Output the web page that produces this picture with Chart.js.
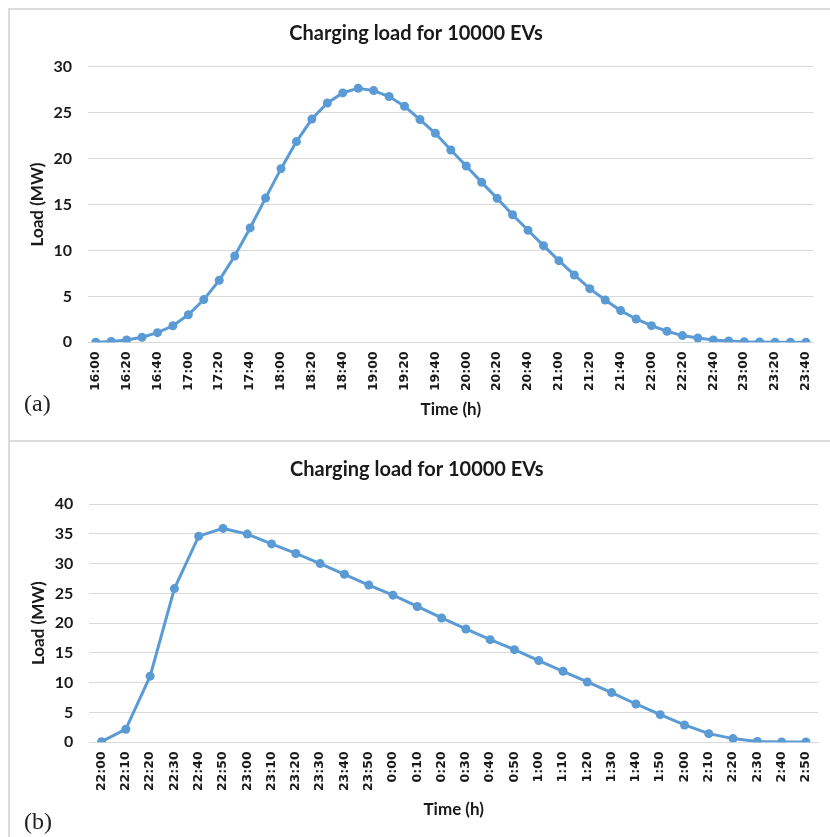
<!DOCTYPE html>
<html>
<head>
<meta charset="utf-8">
<script src="https://cdn.jsdelivr.net/npm/chart.js@4.4.1/dist/chart.umd.min.js"></script>
<style>
  html, body { margin: 0; padding: 0; background: #fff; }
  body { width: 830px; height: 837px; position: relative; overflow: hidden; }
  .box { position: absolute; }
  .line { position: absolute; background: #dcdcdc; }
  .tag { position: absolute; font-family: "Liberation Serif", "DejaVu Serif", serif; font-size: 24px; color: #222; line-height: 1; }
</style>
</head>
<body>
<div class="line" style="left:8px; top:8px; width:822px; height:2px;"></div>
<div class="line" style="left:8px; top:8px; width:2px; height:829px;"></div>
<div class="line" style="left:8px; top:440px; width:822px; height:2px;"></div>

<div class="box" style="left:8px; top:8px; width:822px; height:433px;"><canvas id="c1"></canvas></div>
<div class="box" style="left:8px; top:441px; width:822px; height:396px;"><canvas id="c2"></canvas></div>

<div class="tag" style="left:24px; top:391px;">(a)</div>
<div class="tag" style="left:24px; top:809px;">(b)</div>

<script>
// ---- Data ----
const chartTitle = "Charging load for 10000 EVs";
const xAxisTitle = "Time (h)";
const yAxisTitle = "Load (MW)";

const timesA = ["16:00","16:10","16:20","16:30","16:40","16:50","17:00","17:10","17:20","17:30","17:40","17:50",
  "18:00","18:10","18:20","18:30","18:40","18:50","19:00","19:10","19:20","19:30","19:40","19:50",
  "20:00","20:10","20:20","20:30","20:40","20:50","21:00","21:10","21:20","21:30","21:40","21:50",
  "22:00","22:10","22:20","22:30","22:40","22:50","23:00","23:10","23:20","23:30","23:40"];
const loadA = [0.0,0.1,0.25,0.55,1.05,1.8,3.0,4.65,6.75,9.4,12.45,15.7,
  18.9,21.85,24.3,26.05,27.15,27.65,27.4,26.75,25.7,24.25,22.75,20.93,
  19.19,17.41,15.67,13.89,12.19,10.52,8.89,7.33,5.84,4.61,3.45,2.54,
  1.81,1.2,0.73,0.47,0.25,0.15,0.06,0.03,0.01,0.0,0.0];
const yTicksA = [0,5,10,15,20,25,30];

const timesB = ["22:00","22:10","22:20","22:30","22:40","22:50","23:00","23:10","23:20","23:30","23:40","23:50",
  "0:00","0:10","0:20","0:30","0:40","0:50","1:00","1:10","1:20","1:30","1:40","1:50",
  "2:00","2:10","2:20","2:30","2:40","2:50"];
const loadB = [0.1,2.2,11.1,25.8,34.6,35.9,34.95,33.3,31.7,30.0,28.2,26.4,
  24.7,22.8,20.87,19.02,17.23,15.55,13.71,11.92,10.13,8.34,6.43,4.64,
  2.91,1.45,0.62,0.15,0.06,0.06];
const yTicksB = [0,5,10,15,20,25,30,35,40];

// ---- Styling ----
const BLUE = "#5B9BD5";
const GRID = "#d9d9d9";
const TXT = "#1a1a1a";
const SANS = "Lato, 'Open Sans', sans-serif";
const TICKX = "'DejaVu Sans', Verdana, sans-serif";
const TITLE_SIZE = 20, TICK_SIZE = 16, AX_SIZE = 17, XT_SIZE = 12.5;

function makeChart(id, labels, values, yTicks, geom, showEvery) {
  const yMax = yTicks[yTicks.length - 1];
  const titleLH = TITLE_SIZE * 1.2;
  const axLH = AX_SIZE * 1.2;
  const titleTop = geom.titleY - titleLH / 2;
  return new Chart(document.getElementById(id), {
    type: 'line',
    data: {
      labels: labels,
      datasets: [{
        data: values,
        borderColor: BLUE,
        backgroundColor: BLUE,
        borderWidth: 3,
        pointRadius: 4.5,
        pointHoverRadius: 4.5,
        pointBackgroundColor: BLUE,
        pointBorderColor: BLUE,
        pointBorderWidth: 0,
        tension: 0,
        fill: false
      }]
    },
    options: {
      responsive: true,
      maintainAspectRatio: false,
      animation: false,
      devicePixelRatio: 1,
      layout: { padding: { left: 0, right: geom.right, top: 0, bottom: 0 } },
      plugins: {
        legend: { display: false },
        tooltip: { enabled: false },
        title: {
          display: true,
          text: chartTitle,
          color: TXT,
          font: { family: SANS, size: TITLE_SIZE, weight: 'bold' },
          padding: { top: titleTop, bottom: geom.top - titleTop - titleLH }
        }
      },
      scales: {
        x: {
          type: 'category',
          offset: true,
          grid: { display: false, drawTicks: false },
          border: { display: true, color: GRID, width: 1 },
          ticks: {
            autoSkip: false,
            minRotation: 90,
            maxRotation: 90,
            padding: 9,
            color: TXT,
            font: { family: TICKX, size: XT_SIZE, weight: 'bold' },
            callback: function (v, i) { return (i % showEvery === 0) ? labels[i] : ''; }
          },
          title: {
            display: true,
            text: xAxisTitle,
            color: TXT,
            font: { family: SANS, size: AX_SIZE, weight: 'bold' },
            padding: { top: 0, bottom: geom.xTitleFromBottom - axLH / 2 }
          },
          afterFit: function (s) { s.height = geom.xHeight; }
        },
        y: {
          min: 0,
          max: yMax,
          grid: { color: GRID, lineWidth: 1, drawTicks: false },
          border: { display: false },
          afterBuildTicks: function (s) { s.ticks = yTicks.map(v => ({ value: v })); },
          ticks: {
            padding: 16,
            color: TXT,
            font: { family: SANS, size: TICK_SIZE, weight: 'bold' }
          },
          title: {
            display: true,
            text: yAxisTitle,
            color: TXT,
            font: { family: SANS, size: AX_SIZE, weight: 'bold' },
            padding: { top: geom.yTitleX - axLH / 2, bottom: 0 }
          },
          afterFit: function (s) { s.width = geom.left; }
        }
      }
    }
  });
}

makeChart('c1', timesA, loadA, yTicksA,
  { left: 80, right: 6, top: 58.7, titleY: 26, yTitleX: 30, xHeight: 433 - 334.3, xTitleFromBottom: 31 }, 2);
makeChart('c2', timesB, loadB, yTicksB,
  { left: 81.4, right: 4.4, top: 63, titleY: 29, yTitleX: 31, xHeight: 396 - 301.3, xTitleFromBottom: 27 }, 1);
</script>
</body>
</html>
